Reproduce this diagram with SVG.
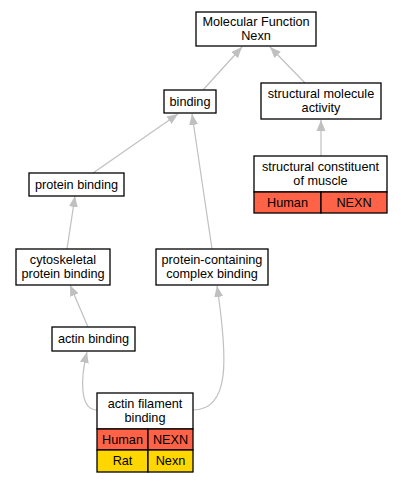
<svg xmlns="http://www.w3.org/2000/svg" width="401" height="483" viewBox="0 0 401 483">
<defs>
<style>
.box{fill:#fff;stroke:#000;stroke-width:1.3}
.red{fill:#ff6347;stroke:#000;stroke-width:1.3}
.yel{fill:#ffd700;stroke:#000;stroke-width:1.3}
text{font-family:"Liberation Sans",Arial,sans-serif;font-size:12.7px;text-anchor:middle;fill:#000}
.e{fill:none;stroke:#c0c0c0;stroke-width:1.2}
</style>
<marker id="a" markerUnits="userSpaceOnUse" markerWidth="12" markerHeight="10" refX="11" refY="5" orient="auto">
<path d="M0,0.5 L11,5 L0,9.5 z" fill="#c0c0c0"/>
</marker>
</defs>
<rect width="401" height="483" fill="#fff"/>
<g id="edges">
<path class="e" d="M203,90 L242,47" marker-end="url(#a)"/>
<path class="e" d="M305,83 L270,47" marker-end="url(#a)"/>
<path class="e" d="M321,156 L321,120" marker-end="url(#a)"/>
<path class="e" d="M93,173 L178,114" marker-end="url(#a)"/>
<path class="e" d="M67,249 L75,196" marker-end="url(#a)"/>
<path class="e" d="M88,327 L70,285" marker-end="url(#a)"/>
<path class="e" d="M212,249 L192,114" marker-end="url(#a)"/>
<path class="e" d="M97,410 C80,410 80,380 87,352" marker-end="url(#a)"/>
<path class="e" d="M193,410 C230,410 228,360 217,286" marker-end="url(#a)"/>
</g>
<g id="mf">
<rect class="box" x="196" y="12" width="120" height="34"/>
<text x="256" y="26">Molecular Function</text>
<text x="256" y="40">Nexn</text>
</g>
<g id="binding">
<rect class="box" x="164" y="90" width="52" height="23"/>
<text x="190" y="106">binding</text>
</g>
<g id="sma">
<rect class="box" x="261" y="83" width="120" height="36"/>
<text x="321" y="98">structural molecule</text>
<text x="321" y="112">activity</text>
</g>
<g id="scm">
<rect class="box" x="254" y="156" width="133" height="36"/>
<text x="320.5" y="171">structural constituent</text>
<text x="320.5" y="185">of muscle</text>
<rect class="red" x="254" y="192" width="67" height="21"/>
<rect class="red" x="321" y="192" width="66" height="21"/>
<text x="287.5" y="207">Human</text>
<text x="354" y="207">NEXN</text>
</g>
<g id="pb">
<rect class="box" x="29" y="173" width="95" height="23"/>
<text x="76.5" y="189">protein binding</text>
</g>
<g id="cpb">
<rect class="box" x="16" y="249" width="94" height="36"/>
<text x="63" y="264">cytoskeletal</text>
<text x="63" y="278">protein binding</text>
</g>
<g id="pccb">
<rect class="box" x="156" y="249" width="112" height="36"/>
<text x="212" y="264">protein-containing</text>
<text x="212" y="278">complex binding</text>
</g>
<g id="ab">
<rect class="box" x="52" y="327" width="83" height="24"/>
<text x="93.5" y="343">actin binding</text>
</g>
<g id="afb">
<rect class="box" x="97" y="393" width="96" height="36"/>
<text x="145" y="408">actin filament</text>
<text x="145" y="422">binding</text>
<rect class="red" x="97" y="429" width="51" height="21"/>
<rect class="red" x="148" y="429" width="45" height="21"/>
<text x="122.5" y="444">Human</text>
<text x="170.5" y="444">NEXN</text>
<rect class="yel" x="97" y="450" width="51" height="22"/>
<rect class="yel" x="148" y="450" width="45" height="22"/>
<text x="122.5" y="465">Rat</text>
<text x="170.5" y="465">Nexn</text>
</g>
</svg>
